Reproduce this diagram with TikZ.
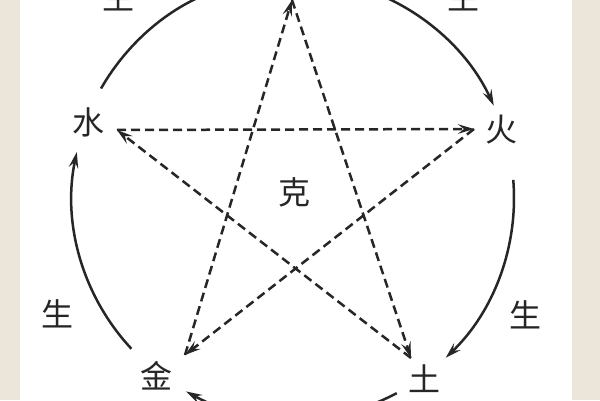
\documentclass[tikz,border=0pt]{standalone}
\usepackage{fontspec}
\newfontfamily\cjk{Noto Sans CJK SC}
\usetikzlibrary{arrows.meta,calc}
\definecolor{ink}{HTML}{262626}
\definecolor{beige}{HTML}{ECE5D9}
\begin{document}
\begin{tikzpicture}[x=1pt,y=1pt,
  lbl/.style={font=\cjk\fontsize{32}{32}\selectfont, inner sep=0pt, text=ink},
  tip/.style={-{Stealth[length=16pt,width=9.5pt,inset=6pt]}},
  sheng/.style={draw=ink, line width=2.5pt, tip},
  ke/.style={draw=ink, line width=2.5pt, dash pattern=on 9pt off 5pt, tip}]
\useasboundingbox (0,0) rectangle (600,400);
\fill[white] (0,0) rectangle (600,400);
\fill[beige] (0,0) rectangle (20,400);
\fill[beige] (572,0) rectangle (600,400);

% labels
\node[lbl] (shui) at (88,278) {水};
\node[lbl] (huo)  at (501,270) {火};
\node[lbl] (jin)  at (156,24) {金};
\node[lbl] (tu)   at (424,21) {土};
\node[lbl] (ke)   at (294,208) {克};
\node[lbl] (s1)   at (118,403) {生};
\node[lbl] (s2)   at (463,403) {生};
\node[lbl] (s3)   at (57,86) {生};
\node[lbl] (s4)   at (525,85) {生};

% star vertices
\coordinate (T) at (292,400);
\coordinate (W) at (117,270);
\coordinate (F) at (474,271);
\coordinate (J) at (185,45);
\coordinate (E) at (411,42);

\draw[ke] (W) -- (F);
\draw[ke] (F) -- (J);
\draw[ke] (J) -- (T);
\draw[ke] (T) -- (E);
\draw[ke] (E) -- (W);

% generating circle
\coordinate (C) at (293,202);
\coordinate (a1) at ($(C)+(150.3:221)$);
\coordinate (a2) at ($(C)+(72:221)$);
\coordinate (a3) at ($(C)+(4.7:221)$);
\coordinate (a4) at ($(C)+(-62:221)$);
\coordinate (a5) at ($(C)+(223:221)$);
\draw[sheng] (a1) arc[start angle=150.3, end angle=108, radius=221];
\draw[sheng] (a2) arc[start angle=72, end angle=24.7, radius=221];
\draw[sheng] (a3) arc[start angle=4.7, end angle=-46.3, radius=221];
\draw[sheng] (a4) arc[start angle=-62, end angle=-118.9, radius=221];
\draw[sheng] (a5) arc[start angle=223, end angle=168, radius=221];
\end{tikzpicture}
\end{document}
